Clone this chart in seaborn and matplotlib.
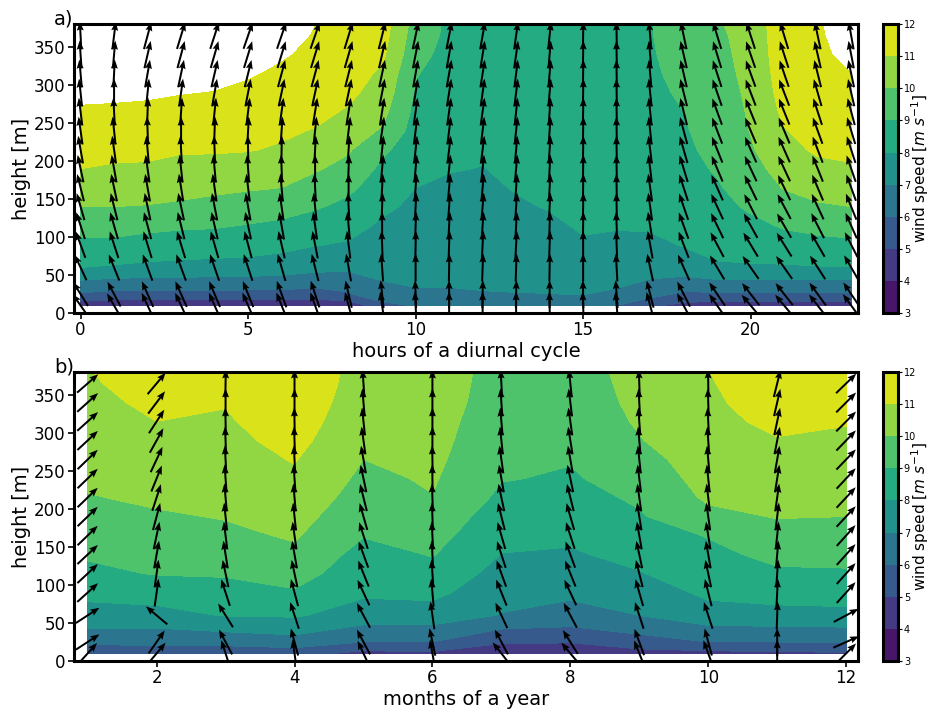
import numpy as np
import matplotlib
matplotlib.use("Agg")
import matplotlib.pyplot as plt
import seaborn as sns

# measurement heights [m], shared by both panels
heights = [10, 25, 60, 90, 115, 140, 165, 190, 215, 240, 265, 290, 315, 340, 365, 400]
hours = list(range(24))
months = list(range(1, 13))

# mean wind speed [m/s] per hour, bottom -> top
speed_day = [
    [4.4, 5.9, 8.0, 8.75, 9.4, 10.0, 10.5, 11.0, 11.3, 11.6, 11.9, 12.2, 12.5, 12.7, 12.9, 13.1],
    [4.3, 5.7, 7.9, 8.75, 9.4, 10.0, 10.5, 10.9, 11.25, 11.55, 11.85, 12.2, 12.45, 12.65, 12.85, 13.05],
    [4.3, 5.7, 7.8, 8.6, 9.25, 9.95, 10.45, 10.85, 11.25, 11.5, 11.8, 12.15, 12.4, 12.6, 12.8, 13.0],
    [4.3, 5.7, 7.75, 8.5, 9.15, 9.85, 10.3, 10.7, 11.1, 11.4, 11.7, 12.05, 12.35, 12.55, 12.75, 12.95],
    [4.3, 5.7, 7.7, 8.45, 9.1, 9.7, 10.2, 10.65, 11.1, 11.35, 11.65, 11.98, 12.3, 12.5, 12.7, 12.9],
    [4.3, 5.7, 7.65, 8.4, 8.95, 9.55, 10.1, 10.6, 11.05, 11.3, 11.55, 11.8, 12.1, 12.4, 12.6, 12.8],
    [4.3, 5.7, 7.55, 8.25, 8.8, 9.4, 10.0, 10.5, 10.9, 11.15, 11.4, 11.65, 11.85, 12.1, 12.3, 12.5],
    [4.3, 5.6, 7.3, 8.05, 8.55, 9.1, 9.6, 10.1, 10.5, 10.95, 11.25, 11.45, 11.6, 11.8, 11.95, 12.1],
    [4.4, 5.9, 7.2, 7.9, 8.35, 8.75, 9.2, 9.7, 10.1, 10.5, 10.9, 11.2, 11.4, 11.55, 11.7, 11.85],
    [5.6, 6.8, 7.2, 7.6, 7.85, 8.2, 8.5, 8.8, 9.2, 9.9, 10.3, 10.6, 10.85, 11.2, 11.4, 11.6],
    [6.1, 6.95, 7.15, 7.4, 7.6, 7.8, 8.0, 8.25, 8.45, 8.6, 8.75, 8.9, 9.05, 9.3, 9.5, 9.75],
    [6.2, 6.95, 7.15, 7.35, 7.5, 7.7, 7.85, 8.05, 8.2, 8.35, 8.45, 8.55, 8.65, 8.7, 8.8, 8.85],
    [6.3, 6.97, 7.2, 7.4, 7.55, 7.7, 7.85, 7.98, 8.1, 8.2, 8.3, 8.4, 8.5, 8.55, 8.6, 8.65],
    [6.3, 6.98, 7.3, 7.5, 7.7, 7.9, 8.05, 8.15, 8.25, 8.35, 8.4, 8.45, 8.5, 8.55, 8.6, 8.6],
    [6.4, 6.99, 7.4, 7.65, 7.85, 8.05, 8.2, 8.3, 8.35, 8.4, 8.45, 8.5, 8.5, 8.55, 8.55, 8.6],
    [6.4, 7.02, 7.6, 7.9, 8.1, 8.2, 8.3, 8.35, 8.4, 8.45, 8.5, 8.5, 8.55, 8.55, 8.6, 8.6],
    [6.0, 6.85, 7.55, 7.85, 8.05, 8.2, 8.35, 8.45, 8.5, 8.55, 8.6, 8.65, 8.7, 8.75, 8.8, 8.85],
    [5.2, 6.4, 7.45, 7.8, 8.1, 8.25, 8.4, 8.5, 8.6, 8.65, 8.7, 8.75, 8.8, 8.85, 8.9, 8.95],
    [4.7, 5.8, 7.6, 8.05, 8.3, 8.5, 8.6, 8.7, 8.8, 8.9, 9.0, 9.15, 9.35, 9.6, 9.85, 9.95],
    [4.5, 5.9, 7.9, 8.25, 8.5, 8.7, 8.9, 9.1, 9.3, 9.45, 9.6, 9.7, 9.8, 9.85, 9.9, 10.0],
    [4.5, 5.9, 7.9, 8.45, 8.75, 9.15, 9.45, 9.7, 9.9, 10.03, 10.08, 10.12, 10.15, 10.18, 10.2, 10.25],
    [4.5, 5.9, 7.9, 8.6, 9.1, 9.6, 10.05, 10.35, 10.7, 10.95, 11.2, 11.4, 11.55, 11.7, 11.8, 11.9],
    [4.5, 5.9, 7.95, 8.7, 9.3, 9.9, 10.3, 10.75, 11.15, 11.35, 11.5, 11.65, 11.75, 11.85, 11.9, 11.97],
    [4.5, 5.9, 7.97, 8.8, 9.4, 10.0, 10.5, 10.9, 11.2, 11.45, 11.65, 11.85, 12.0, 12.2, 12.35, 12.5],
]

# direction the wind blows towards, degrees clockwise from up, per hour
dir_day = [
    [-35, -32, -25, -20, -18, -16, -14, -12, -10, -8, -7, -6, -5, -4, -3, -2],
    [-30, -28, -22, -18, -16, -14, -12, -10, -8, -6, -3, 0, 3, 5, 7, 8],
    [-25, -24, -20, -17, -15, -12, -10, -8, -5, -2, 2, 6, 10, 13, 15, 16],
    [-25, -24, -20, -17, -14, -12, -9, -6, -3, 0, 4, 8, 12, 15, 17, 18],
    [-24, -23, -19, -16, -13, -11, -8, -5, -2, 2, 6, 10, 13, 16, 18, 19],
    [-24, -22, -18, -15, -12, -10, -7, -4, -1, 3, 7, 11, 14, 17, 19, 20],
    [-22, -20, -16, -13, -10, -8, -5, -2, 1, 4, 8, 12, 15, 17, 19, 20],
    [-20, -18, -14, -11, -8, -6, -3, 0, 3, 6, 9, 12, 15, 17, 19, 20],
    [-15, -13, -10, -7, -5, -3, 0, 2, 4, 7, 9, 12, 14, 16, 17, 18],
    [-8, -6, -4, -2, 0, 2, 3, 5, 6, 8, 9, 11, 12, 13, 14, 15],
    [-3, -2, 0, 1, 2, 3, 4, 5, 6, 7, 8, 9, 10, 11, 12, 12],
    [0, 0, 1, 2, 3, 4, 5, 6, 7, 7, 8, 9, 10, 10, 11, 11],
    [0, 1, 2, 3, 4, 5, 5, 6, 7, 7, 8, 8, 9, 9, 10, 10],
    [0, 1, 2, 3, 3, 4, 4, 5, 5, 6, 6, 7, 7, 8, 8, 8],
    [-1, 0, 1, 2, 2, 3, 3, 3, 4, 4, 4, 5, 5, 5, 6, 6],
    [-2, -1, 0, 0, 1, 1, 1, 1, 1, 1, 1, 1, 1, 1, 1, 1],
    [-5, -4, -3, -2, -2, -1, -1, -1, -1, -1, -1, -1, -1, -1, -1, -1],
    [-15, -14, -12, -10, -9, -8, -8, -7, -7, -6, -6, -6, -5, -5, -5, -5],
    [-28, -27, -24, -21, -20, -19, -18, -17, -16, -15, -14, -14, -13, -13, -12, -12],
    [-35, -34, -31, -28, -26, -25, -24, -23, -22, -21, -20, -19, -18, -17, -17, -16],
    [-40, -38, -35, -31, -29, -27, -26, -25, -24, -23, -22, -21, -20, -19, -18, -17],
    [-40, -38, -35, -32, -30, -28, -26, -25, -24, -23, -22, -21, -19, -18, -17, -16],
    [-38, -36, -33, -30, -27, -25, -23, -22, -21, -20, -18, -16, -14, -13, -12, -11],
    [-36, -34, -30, -27, -24, -22, -20, -19, -18, -17, -15, -13, -12, -11, -10, -9],
]

# mean wind speed [m/s] per month, bottom -> top
speed_year = [
    [5.0, 6.3, 7.7, 8.2, 8.8, 9.1, 9.35, 9.65, 9.95, 10.15, 10.3, 10.45, 10.6, 10.75, 10.9, 11.05],
    [5.3, 6.3, 7.65, 8.45, 9.05, 9.35, 9.65, 9.9, 10.15, 10.4, 10.6, 10.8, 11.0, 11.2, 11.35, 11.5],
    [5.3, 6.35, 8.05, 8.6, 9.1, 9.5, 9.8, 10.05, 10.3, 10.5, 10.65, 10.75, 10.9, 11.05, 11.2, 11.35],
    [5.4, 6.6, 8.1, 8.9, 9.4, 9.8, 10.1, 10.35, 10.6, 10.85, 11.05, 11.3, 11.5, 11.7, 11.85, 11.95],
    [4.7, 6.0, 7.55, 8.15, 8.4, 8.65, 9.05, 9.35, 9.6, 9.8, 10.0, 10.15, 10.3, 10.4, 10.5, 10.6],
    [4.8, 6.0, 7.55, 8.25, 8.7, 9.05, 9.35, 9.65, 9.97, 10.1, 10.2, 10.25, 10.3, 10.35, 10.38, 10.4],
    [4.4, 5.1, 6.95, 7.35, 7.65, 7.98, 8.25, 8.5, 8.8, 9.05, 9.25, 9.45, 9.55, 9.65, 9.7, 9.75],
    [4.4, 5.05, 6.7, 7.15, 7.5, 7.9, 8.15, 8.4, 8.65, 8.9, 9.05, 9.25, 9.4, 9.5, 9.6, 9.7],
    [4.6, 5.6, 7.0, 7.45, 7.95, 8.25, 8.55, 8.9, 9.15, 9.4, 9.65, 9.95, 10.1, 10.2, 10.25, 10.3],
    [4.7, 6.0, 7.6, 8.2, 8.5, 8.75, 9.05, 9.75, 10.15, 10.35, 10.5, 10.65, 10.75, 10.85, 10.93, 11.05],
    [4.8, 6.0, 7.7, 8.35, 8.85, 9.25, 9.6, 10.05, 10.3, 10.5, 10.75, 10.95, 11.2, 11.4, 11.55, 11.7],
    [4.9, 6.05, 7.75, 8.4, 8.9, 9.25, 9.6, 10.0, 10.2, 10.4, 10.6, 10.85, 11.05, 11.25, 11.4, 11.55],
]

# direction the wind blows towards, degrees clockwise from up, per month
dir_year = [
    [42, 57, 57, 48, 47, 47, 46, 46, 46, 46, 46, 47, 48, 48, 49, 50],
    [40, 35, -50, 8, 8, 10, 12, 15, 18, 22, 25, 29, 33, 37, 40, 42],
    [-18, -28, -32, -18, -12, -9, -7, -6, -5, -4, -3, -2, -1, 0, 1, 2],
    [-8, -15, -18, -15, -12, -10, -8, -6, -5, -4, -3, -2, -1, 0, 0, 0],
    [-25, -28, -28, -25, -22, -20, -18, -16, -14, -12, -10, -8, -6, -5, -4, -3],
    [-10, -12, -8, -5, -4, -3, -3, -2, -2, -1, -1, 0, 0, 0, 0, 0],
    [-38, -28, -25, -22, -20, -18, -16, -14, -12, -10, -8, -6, -5, -4, -3, -2],
    [-40, -32, -28, -25, -22, -20, -18, -16, -14, -12, -10, -9, -8, -7, -6, -5],
    [-22, -20, -18, -16, -14, -12, -10, -9, -8, -7, -6, -5, -4, -3, -2, -2],
    [-20, -15, -18, -14, -12, -10, -9, -8, -7, -6, -5, -4, -3, -2, -1, 0],
    [0, 0, 2, 3, 4, 5, 6, 7, 8, 9, 10, 11, 12, 13, 14, 15],
    [45, 66, 62, 42, 42, 42, 42, 43, 43, 43, 44, 44, 45, 45, 46, 46],
]

sns.set_theme(style="ticks", rc={"axes.edgecolor": "black", "xtick.color": "black",
                                 "ytick.color": "black", "text.color": "black",
                                 "axes.labelcolor": "black"})
plt.rcParams["font.family"] = ["DejaVu Sans"]

fig = plt.figure(figsize=(9.35, 7.1), dpi=100)
ax_a = fig.add_axes([0.079, 0.559, 0.8385, 0.407])
cax_a = fig.add_axes([0.944, 0.559, 0.016, 0.407])
ax_b = fig.add_axes([0.079, 0.069, 0.8385, 0.407])
cax_b = fig.add_axes([0.944, 0.069, 0.016, 0.407])


def draw_panel(ax, cax, x, speed, direction, xlabel, tag):
    X, Z = np.meshgrid(x, heights)
    S = np.array(speed).T
    D = np.radians(np.array(direction).T)
    cf = ax.contourf(X, Z, S, levels=np.arange(3, 13), cmap="viridis")
    ax.quiver(X, Z, np.sin(D), np.cos(D), pivot="middle", angles="uv",
              scale_units="inches", scale=1 / 0.28, units="dots", width=2,
              headwidth=3.5, headlength=4.5, headaxislength=4, color="black")
    ax.set_ylim(0, 380)
    ax.set_yticks(range(0, 351, 50))
    ax.set_xlabel(xlabel, fontsize=14, labelpad=2)
    ax.set_ylabel("height [m]", fontsize=14, labelpad=2)
    ax.tick_params(labelsize=12, length=4, width=1.2, pad=2)
    for sp in ax.spines.values():
        sp.set_linewidth(2.2)
    ax.text(0.0, 1.0, tag, transform=ax.transAxes, ha="right", va="baseline", fontsize=14)
    cb = fig.colorbar(cf, cax=cax, ticks=range(3, 13))
    cb.outline.set_linewidth(2.2)
    cb.ax.tick_params(labelsize=7, length=3, width=0.8, pad=1.5)
    # colorbar label placed as rotated text just right of the tick labels
    pos = cax.get_position()
    fig.text(0.984, pos.y0 + pos.height / 2, r"wind speed [$m\ s^{-1}$]",
             rotation=90, ha="center", va="center", fontsize=11)


draw_panel(ax_a, cax_a, hours, speed_day, dir_day, "hours of a diurnal cycle", "a)")
ax_a.set_xlim(-0.2, 23.2)
ax_a.set_xticks([0, 5, 10, 15, 20])

draw_panel(ax_b, cax_b, months, speed_year, dir_year, "months of a year", "b)")
ax_b.set_xlim(0.8, 12.17)
ax_b.set_xticks([2, 4, 6, 8, 10, 12])

fig.savefig("out.png", dpi=100)
